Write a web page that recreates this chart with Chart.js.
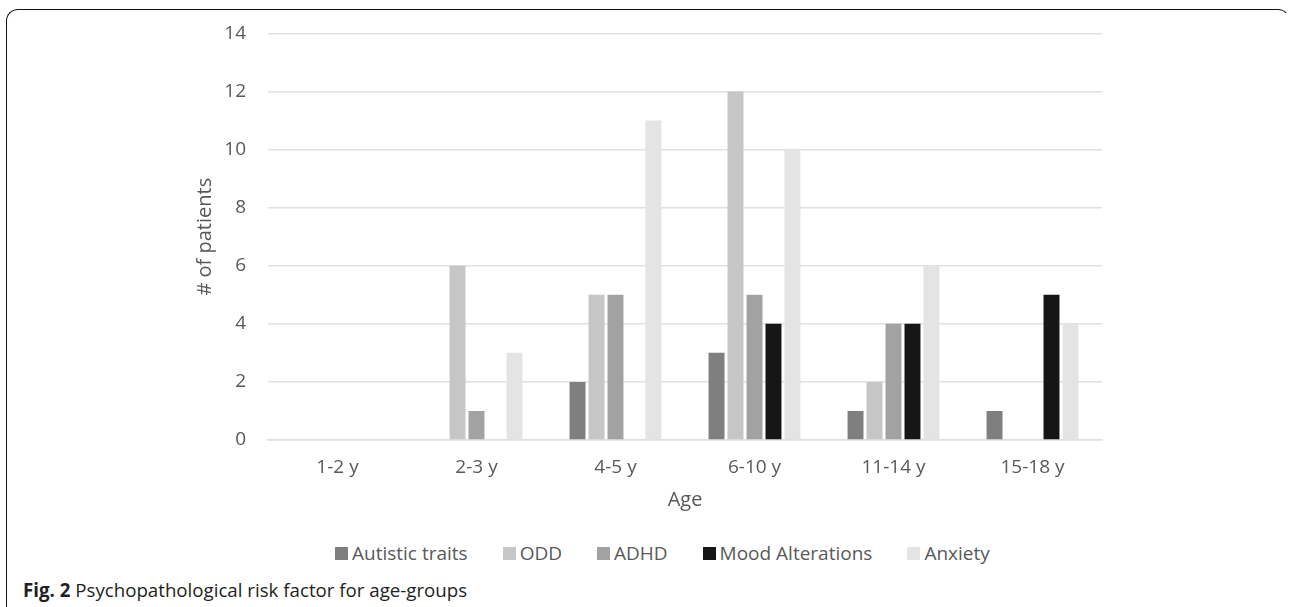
<!DOCTYPE html>
<html>
<head>
<meta charset="utf-8">
<script src="https://cdn.jsdelivr.net/npm/chart.js@4.4.1/dist/chart.umd.min.js"></script>
<style>
  html, body { margin: 0; padding: 0; background: #fff; width: 1290px; height: 607px; overflow: hidden; }
  #frame {
    position: absolute; left: 6px; top: 9px; width: 1284px; height: 610px;
    border: 1.5px solid #111; border-right-color: transparent; border-bottom-color: transparent;
    border-radius: 12px; box-sizing: border-box;
  }
  #wrap { position: absolute; left: 0; top: 0; width: 1290px; height: 512px; }
  #legend {
    position: absolute; left: 335px; top: 540px; display: flex; align-items: center;
    font-family: "Open Sans", sans-serif; font-size: 19px; line-height: 26px; color: #595959; white-space: nowrap;
  }
  #legend .item { display: flex; align-items: center; margin-right: 35px; }
  #legend .sw { width: 13px; height: 13px; margin-right: 4px; }
  #caption {
    position: absolute; left: 23px; top: 577px; font-family: "Open Sans", sans-serif;
    font-size: 18.7px; color: #231f20; white-space: nowrap;
  }
  #caption b { font-weight: 700; }
</style>
</head>
<body>
<div id="frame"></div>
<div id="wrap"><canvas id="c"></canvas></div>
<div id="legend"></div>
<div id="caption"><b>Fig. 2</b> Psychopathological risk factor for age-groups</div>
<script>
const categories = ["1-2 y", "2-3 y", "4-5 y", "6-10 y", "11-14 y", "15-18 y"];
const seriesNames = ["Autistic traits", "ODD", "ADHD", "Mood Alterations", "Anxiety"];
const autisticTraits = [0, 0, 2, 3, 1, 1];
const odd = [0, 6, 5, 12, 2, 0];
const adhd = [0, 1, 5, 5, 4, 0];
const moodAlterations = [0, 0, 0, 4, 4, 5];
const anxiety = [0, 3, 11, 10, 6, 4];
const seriesColors = ["#7f7f7f", "#c5c6c5", "#a2a2a2", "#161616", "#e3e4e3"];
const yTicks = [0, 2, 4, 6, 8, 10, 12, 14];

const seriesValues = [autisticTraits, odd, adhd, moodAlterations, anxiety];
const FONT = "'Open Sans', sans-serif";
const TXT = "#595959";

// legend built from the series arrays
const legendEl = document.getElementById("legend");
seriesNames.forEach((n, i) => {
  const it = document.createElement("div");
  it.className = "item";
  const sw = document.createElement("div");
  sw.className = "sw";
  sw.style.background = seriesColors[i];
  const tx = document.createElement("span");
  tx.textContent = n;
  it.appendChild(sw);
  it.appendChild(tx);
  legendEl.appendChild(it);
});

new Chart(document.getElementById("c"), {
  type: "bar",
  data: {
    labels: categories,
    datasets: seriesNames.map((n, i) => ({
      label: n,
      data: seriesValues[i],
      backgroundColor: seriesColors[i],
      borderWidth: 0,
      categoryPercentage: 0.683,
      barPercentage: 0.84
    }))
  },
  options: {
    responsive: true,
    maintainAspectRatio: false,
    animation: false,
    devicePixelRatio: 1,
    layout: { padding: { left: 190, right: 188, top: 33, bottom: 0 } },
    plugins: {
      tooltip: { enabled: false },
      legend: { display: false }
    },
    scales: {
      x: {
        afterFit: (s) => { s.height = 72; },
        grid: { display: false },
        border: { display: true, color: "#e0e0e0", width: 1.5 },
        ticks: { font: { family: FONT, size: 19 }, color: TXT, padding: 8 },
        title: { display: true, text: "Age", font: { family: FONT, size: 20 }, color: TXT, padding: { top: 0, bottom: 0 } }
      },
      y: {
        min: 0, max: 14,
        afterFit: (s) => { s.width = 78; },
        afterBuildTicks: (s) => { s.ticks = yTicks.map(v => ({ value: v })); },
        grid: { color: "#e0e0e0", lineWidth: 1.5, drawTicks: false },
        border: { display: false },
        ticks: { font: { family: FONT, size: 19 }, color: TXT, padding: 22 },
        title: { display: true, text: "# of patients", font: { family: FONT, size: 20 }, color: TXT, padding: { top: 3, bottom: 0 } }
      }
    }
  }
});
</script>
</body>
</html>
